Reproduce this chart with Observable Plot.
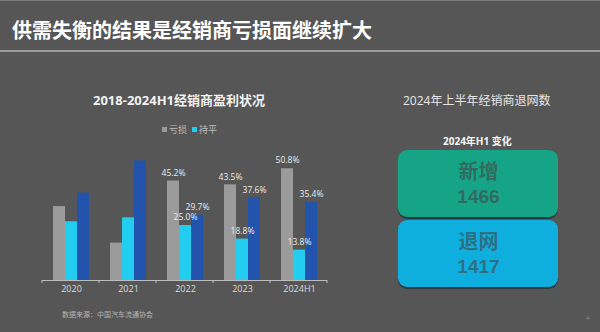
<!DOCTYPE html>
<html><head><meta charset="utf-8">
<script src="https://cdn.jsdelivr.net/npm/d3@7"></script>
<script src="https://cdn.jsdelivr.net/npm/@observablehq/plot@0.6"></script>
<style>
html,body{margin:0;padding:0;}
body{background:#565656;width:600px;height:332px;overflow:hidden;position:relative;font-family:"Open Sans","Noto Sans CJK SC",sans-serif;}
.abs{position:absolute;white-space:nowrap;}
#topline{left:0;top:0;width:600px;height:1px;background:#7a7a7a;}
#title{left:12px;top:15px;font-size:20px;font-weight:bold;color:#fff;font-family:"Noto Sans CJK SC",sans-serif;line-height:30px;}
#rule{left:0;top:50px;width:600px;height:2px;background:#9a9a9a;}
#ctitle{left:93px;top:91px;font-size:13px;font-weight:bold;color:#f2f2f2;line-height:18px;font-family:"Open Sans","Noto Sans CJK SC",sans-serif;}
#legend{left:162px;top:124px;font-size:9px;color:#bdbdbd;line-height:12px;font-family:"Noto Sans CJK SC",sans-serif;}
#legend span.sw{display:inline-block;width:5px;height:5px;margin-right:2px;vertical-align:1px;}
#legend span.it{margin-right:5px;}
#chart{left:0;top:140px;}
#source{left:62px;top:309px;font-size:7px;color:#b5b5b5;line-height:10px;font-family:"Noto Sans CJK SC",sans-serif;}
#rtitle{left:403px;top:92px;font-size:12px;color:#e6e6e6;line-height:17px;font-family:"Open Sans","Noto Sans CJK SC",sans-serif;}
#rsub{left:443px;top:134px;font-size:10px;font-weight:bold;color:#f5f5f5;line-height:14px;font-family:"Open Sans","Noto Sans CJK SC",sans-serif;}
#boxes{left:398px;top:149px;}
#page{left:586px;top:314px;font-size:6px;color:#8a8a8a;}
</style></head><body>
<div class="abs" id="topline"></div>
<div class="abs" id="title">供需失衡的结果是经销商亏损面继续扩大</div>
<div class="abs" id="rule"></div>
<div class="abs" id="ctitle">2018-2024H1经销商盈利状况</div>
<div class="abs" id="legend"></div>
<div class="abs" id="chart"></div>
<div class="abs" id="source">数据来源：中国汽车流通协会</div>
<div class="abs" id="rtitle">2024年上半年经销商退网数</div>
<div class="abs" id="rsub">2024年H1 变化</div>
<div class="abs" id="boxes"></div>
<div class="abs" id="page">4</div>
<script>
// ---- data ----
const years = ["2020", "2021", "2022", "2023", "2024H1"];
const seriesNames = ["亏损", "持平", "盈利"];
const legendNames = ["亏损", "持平"];
const loss = [33.6, 17.0, 45.2, 43.5, 50.8];
const flat = [26.7, 28.5, 25.0, 18.8, 13.8];
const profit = [39.7, 54.3, 29.7, 37.6, 35.4];
const labeledYears = ["2022", "2023", "2024H1"];
const seriesColors = ["#9b9b9b", "#22cdef", "#2254ae"];
const netNames = ["新增", "退网"];
const netValues = [1466, 1417];
const netColors = ["#16a487", "#0eaede"];

// ---- legend ----
const leg = document.getElementById("legend");
legendNames.forEach((n, i) => {
  const sw = document.createElement("span"); sw.className = "sw"; sw.style.background = seriesColors[i];
  const t = document.createElement("span"); t.className = "it"; t.textContent = n;
  leg.appendChild(sw); leg.appendChild(t);
});

// ---- bar chart ----
const seriesArrays = [loss, flat, profit];
const rows = [];
years.forEach((y, i) => seriesArrays.forEach((arr, k) => rows.push({year: y, series: seriesNames[k], value: arr[i]})));

const chart = Plot.plot({
  width: 340, height: 160,
  marginTop: 8, marginBottom: 20, marginLeft: 42, marginRight: 13,
  style: {background: "transparent", color: "#dcdcdc", fontSize: "9px", fontFamily: "'Open Sans','Noto Sans CJK SC',sans-serif", overflow: "visible"},
  facet: {data: rows, x: "year"},
  fx: {domain: years, paddingInner: 0.34, paddingOuter: 0.17, axis: "bottom", label: null, tickSize: 0, tickPadding: 5},
  x: {domain: seriesNames, axis: null, padding: 0},
  y: {domain: [0, 60], axis: null},
  color: {domain: seriesNames, range: seriesColors},
  marks: [
    Plot.barY(rows, {x: "series", y: "value", fill: "series"}),
    Plot.text(rows, {filter: d => labeledYears.includes(d.year), x: "series", y: "value", text: d => d.value.toFixed(1) + "%", dy: -8, fill: "#ececec", fontSize: 8.5})
  ]
});
document.getElementById("chart").appendChild(chart);

// baseline axis line drawn from the plot's own scales
(function(){
  const fx = chart.scale("fx");
  const ys = chart.scale("y");
  const y0 = ys.apply(0);
  const [r0, r1] = fx.range;
  const svg = d3.select(chart);
  svg.append("line").attr("x1", r0).attr("x2", r1).attr("y1", y0 + 0.5).attr("y2", y0 + 0.5)
    .attr("stroke", "#bdbdbd").attr("stroke-width", 1);
  const n = years.length;
  for (let k = 0; k <= n; k++) {
    const x = r0 + k * (r1 - r0) / n;
    svg.append("line").attr("x1", x).attr("x2", x).attr("y1", y0).attr("y2", y0 + 3)
      .attr("stroke", "#bdbdbd").attr("stroke-width", 1);
  }
})();

// ---- right panel boxes ----
const netRows = netNames.map((n, i) => ({name: n, value: netValues[i]}));
const boxes = Plot.plot({
  width: 160, height: 142,
  marginTop: 0, marginLeft: 0, marginRight: 0, marginBottom: 3,
  style: {background: "transparent", overflow: "visible", fontFamily: "'Liberation Sans','Noto Sans CJK SC',sans-serif"},
  y: {domain: netNames, axis: null, paddingInner: 0.042, paddingOuter: 0},
  color: {domain: netNames, range: netColors},
  marks: [
    Plot.cell(netRows, {y: "name", fill: "#2d3b40", dy: 2, rx: 9}),
    Plot.cell(netRows, {y: "name", fill: "name", rx: 9}),
    Plot.text(netRows, {y: "name", text: "name", dy: -11, fontSize: 20, fontWeight: "bold", fill: "#444", fillOpacity: 0.6, fontFamily: "'Noto Sans CJK SC',sans-serif"}),
    Plot.text(netRows, {y: "name", text: d => String(d.value), dy: 13, fontSize: 19, fontWeight: "bold", fill: "#444", fillOpacity: 0.6})
  ]
});
document.getElementById("boxes").appendChild(boxes);
</script>
</body></html>
